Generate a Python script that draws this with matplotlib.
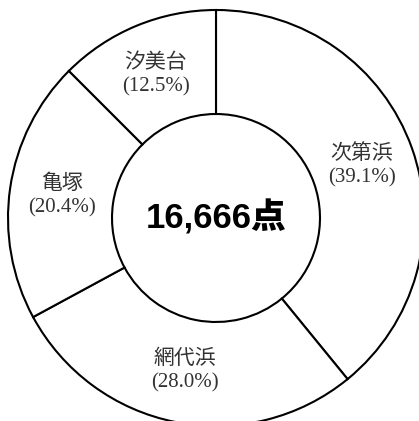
import matplotlib.pyplot as plt

names = ['次第浜', '網代浜', '亀塚', '汐美台']
shares = [39.1, 28.0, 20.4, 12.5]
total_label = '16,666点'

# label positions (data units, radius 1 = outer ring)
label_xy = [(0.70, 0.25), (-0.15, -0.735), (-0.74, 0.105), (-0.29, 0.69)]

W, H = 419, 421
cx, cy, r = 216, 218, 208

fig = plt.figure(figsize=(W / 100, H / 100), dpi=100)
ax = fig.add_axes([0, 0, 1, 1])

ax.pie(shares, radius=1, startangle=90, counterclock=False,
       colors=['white'] * len(shares),
       wedgeprops=dict(width=0.5, edgecolor='black', linewidth=1.5))

ax.set_xlim(-cx / r, (W - cx) / r)
ax.set_ylim(-(H - cy) / r, cy / r)
ax.set_aspect('auto')
ax.axis('off')

label_font = ['Liberation Serif', 'Noto Sans CJK JP']
for name, share, (x, y) in zip(names, shares, label_xy):
    ax.text(x, y, f'{name}\n({share:.1f}%)', ha='center', va='center',
            fontsize=15, family=label_font, color='#333333', linespacing=1.3)

ax.text(0, 0.0, total_label, ha='center', va='center', fontsize=25,
        fontweight='heavy', family=['Liberation Sans', 'Noto Sans CJK JP'])

fig.savefig('out.png', dpi=100)
